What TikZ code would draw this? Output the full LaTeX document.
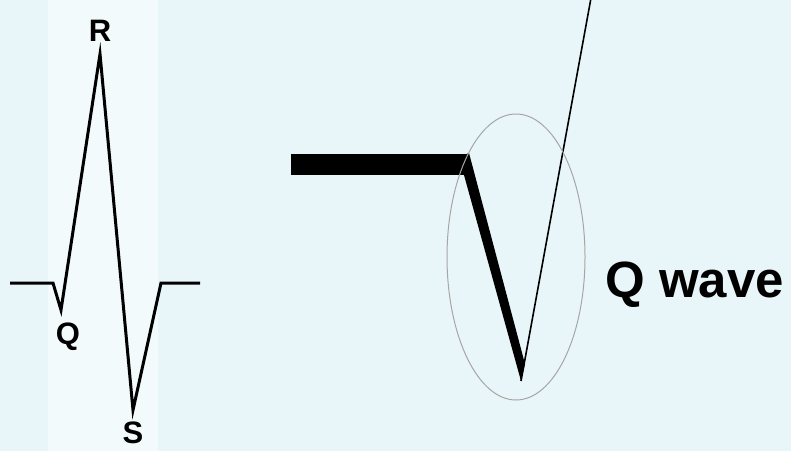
\documentclass[tikz,border=0pt]{standalone}
\usepackage{fontspec}
\setmainfont{Liberation Sans}
\usetikzlibrary{shapes.geometric}
\definecolor{paleblue}{RGB}{233,246,249}
\definecolor{palewhite}{RGB}{243,250,251}
\tikzset{
  lbl/.style={font=\bfseries\fontsize{31}{31}\selectfont, inner sep=0pt},
  trace/.style={line width=3pt, line join=miter},
}
\begin{document}
\begin{tikzpicture}[x=1pt,y=-1pt]
  \fill[paleblue] (0,0) rectangle (791,451);
  \useasboundingbox (0,0) rectangle (791,451);
  \fill[palewhite] (48,0) rectangle (158,451);
  % QRS complex
  \coordinate (a0) at (10,283);
  \coordinate (a1) at (53,283);
  \coordinate (q) at (61,310);
  \coordinate (r) at (100,54);
  \coordinate (s) at (133,410);
  \coordinate (a2) at (161,283);
  \coordinate (a3) at (200,283);
  \draw[trace] (a0) -- (a1) -- (q) -- (r) -- (s) -- (a2) -- (a3);
  \node[lbl] (rl) at (100,31) {R};
  \node[lbl] (ql) at (68,337) {Q};
  \node[lbl] (sl) at (133,433) {S};
  % enlarged Q wave
  \coordinate (b0) at (291,164);
  \coordinate (b1) at (466,164);
  \coordinate (qb) at (521,381);
  \coordinate (top) at (591,-2);
  \draw[line width=21pt] (b0) -- (b1);
  \fill (459,157) -- (469,153) -- (525,364) -- (qb) -- cycle;
  \draw[line width=1.6pt] (qb) -- (top);
  \node[draw=gray!70, line width=1pt, ellipse, minimum width=138pt, minimum height=286pt] (zone) at (516,257) {};
  \node[lbl, font=\bfseries\fontsize{51}{51}\selectfont, anchor=west] (qw) at (605,285) {Q wave};
\end{tikzpicture}
\end{document}
